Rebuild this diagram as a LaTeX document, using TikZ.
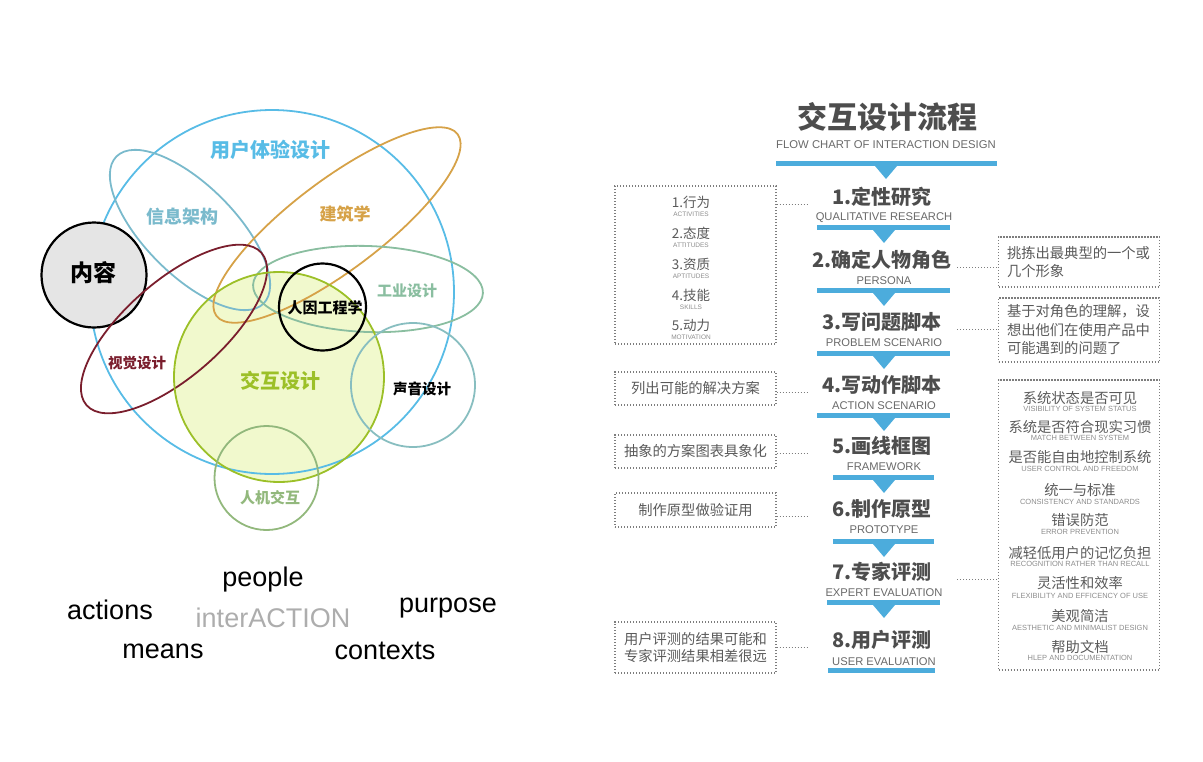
\documentclass[tikz,border=0pt]{standalone}
\usepackage{fontspec}
\setmainfont{Liberation Sans}
\newfontfamily\cjk{Noto Sans CJK SC}

\definecolor{uxblue}{RGB}{88,188,230}
\definecolor{iateal}{RGB}{122,186,204}
\definecolor{archorange}{RGB}{214,162,72}
\definecolor{visred}{RGB}{122,30,45}
\definecolor{indgreen}{RGB}{138,190,160}
\definecolor{ixgreen}{RGB}{156,192,40}
\definecolor{ixfill}{RGB}{241,249,205}
\definecolor{soundteal}{RGB}{136,190,192}
\definecolor{hcigreen}{RGB}{146,184,124}
\definecolor{contentgray}{RGB}{229,229,229}
\definecolor{barblue}{RGB}{76,172,220}
\definecolor{titlegray}{RGB}{77,77,77}
\definecolor{subgray}{RGB}{105,105,105}
\definecolor{notegray}{RGB}{90,90,90}
\definecolor{tinygray}{RGB}{140,140,140}
\definecolor{dotgray}{RGB}{125,125,125}

\begin{document}
\begin{tikzpicture}[x=1pt, y=-1pt,
    ring/.style={line width=1.8pt},
    vlabel/.style={font=\cjk\bfseries\fontsize{#1}{#1}\selectfont},
    word/.style={font=\fontsize{27}{27}\selectfont},
    steptitle/.style={font=\cjk\bfseries\fontsize{20}{20}\selectfont, text=titlegray},
    stepsub/.style={font=\fontsize{11.2}{11.2}\selectfont, text=subgray},
    notebox/.style={draw=dotgray, line width=1.2pt, dash pattern=on 1.2pt off 1.8pt,
      minimum width=161, inner sep=0pt},
    notetext/.style={font=\cjk\fontsize{14.3}{18.5}\selectfont, text=notegray},
    itemcn/.style={font=\cjk\fontsize{#1}{#1}\selectfont, text=notegray},
    itemen/.style={font=\fontsize{#1}{#1}\selectfont, text=tinygray},
    link/.style={draw=dotgray, line width=1.2pt, dash pattern=on 1.2pt off 1.8pt}]
  \useasboundingbox (0,0) rectangle (1203,761);

  % venn diagram
  \fill[ixfill] (279,377) circle (105);
  \scope[ring]
  \draw[uxblue] (272,292) circle (182);
  \filldraw[fill=contentgray, draw=black, line width=2.2pt] (94,275) circle (52.5);
  \draw[iateal, rotate around={-45:(190,230)}] (190,230) ellipse [x radius=104, y radius=45];
  \draw[archorange, rotate around={37:(337,225)}] (337,225) ellipse [x radius=151, y radius=45];
  \draw[indgreen, rotate around={-2:(368,289)}] (368,289) ellipse [x radius=115, y radius=43];
  \draw[visred, rotate around={41:(174,329)}] (174,329) ellipse [x radius=116, y radius=48];
  \draw[ixgreen] (279,377) circle (105);
  \draw[black, line width=2.2pt] (322.5,307) circle (43.5);
  \draw[soundteal] (413,385) circle (62);
  \draw[hcigreen] (266.5,478) circle (52);
  \endscope

  \node[vlabel=20, text=uxblue] (ux) at (270,150) {用户体验设计};
  \node[vlabel=18, text=iateal] (ia) at (182,217) {信息架构};
  \node[vlabel=17, text=archorange] (arch) at (345,214) {建筑学};
  \node[vlabel=23] (content) at (93,273) {内容};
  \node[vlabel=15, text=indgreen] (ind) at (407,291) {工业设计};
  \node[vlabel=15] (ergo) at (325,308) {人因工程学};
  \node[vlabel=14.5, text=visred] (vis) at (137,363) {视觉设计};
  \node[vlabel=20, text=ixgreen] (ix) at (280,381) {交互设计};
  \node[vlabel=14.5] (sound) at (422,389) {声音设计};
  \node[vlabel=15, text=hcigreen] (hci) at (270,498) {人机交互};

  % words
  \node[word] (people) at (263,580) {people};
  \node[word] (actions) at (110,610) {actions};
  \node[word, text=black!32] (interaction) at (273,618) {interACTION};
  \node[word] (purpose) at (448,608) {purpose};
  \node[word] (means) at (163,651) {means};
  \node[word] (contexts) at (385,651) {contexts};

  % flow chart header
  \node[font=\cjk\bfseries\fontsize{30}{30}\selectfont, text=titlegray] (title) at (887,117) {交互设计流程};
  \node[stepsub, font=\fontsize{11.3}{11.3}\selectfont] (subtitle) at (886,145) {FLOW CHART OF INTERACTION DESIGN};
  \fill[barblue] (776,161) rectangle (997,166);
  \fill[barblue] (875,166) -- (897,166) -- (886,179) -- cycle;

  % steps
  \node[steptitle] (t1) at (882,197) {1.定性研究};
  \node[stepsub] (s1) at (884,218) {QUALITATIVE RESEARCH};
  \fill[barblue] (817,225) rectangle (950,230);
  \fill[barblue] (873,230) -- (895,230) -- (884,243) -- cycle;

  \node[steptitle] (t2) at (882,260) {2.确定人物角色};
  \node[stepsub] (s2) at (884,281) {PERSONA};
  \fill[barblue] (817,288) rectangle (950,293);
  \fill[barblue] (873,293) -- (895,293) -- (884,306) -- cycle;

  \node[steptitle] (t3) at (882,322) {3.写问题脚本};
  \node[stepsub] (s3) at (884,343) {PROBLEM SCENARIO};
  \fill[barblue] (817,351) rectangle (950,356);
  \fill[barblue] (873,356) -- (895,356) -- (884,369) -- cycle;

  \node[steptitle] (t4) at (882,385) {4.写动作脚本};
  \node[stepsub] (s4) at (884,406) {ACTION SCENARIO};
  \fill[barblue] (817,413) rectangle (950,418);
  \fill[barblue] (873,418) -- (895,418) -- (884,431) -- cycle;

  \node[steptitle] (t5) at (882,446) {5.画线框图};
  \node[stepsub] (s5) at (884,467) {FRAMEWORK};
  \fill[barblue] (833,475) rectangle (934,480);
  \fill[barblue] (873,480) -- (895,480) -- (884,493) -- cycle;

  \node[steptitle] (t6) at (882,509) {6.制作原型};
  \node[stepsub] (s6) at (884,530) {PROTOTYPE};
  \fill[barblue] (833,539) rectangle (934,544);
  \fill[barblue] (873,544) -- (895,544) -- (884,557) -- cycle;

  \node[steptitle] (t7) at (882,572) {7.专家评测};
  \node[stepsub] (s7) at (884,593) {EXPERT EVALUATION};
  \fill[barblue] (827,600) rectangle (940,605);
  \fill[barblue] (873,605) -- (895,605) -- (884,618) -- cycle;

  \node[steptitle] (t8) at (882,640) {8.用户评测};
  \node[stepsub] (s8) at (884,662) {USER EVALUATION};
  \fill[barblue] (828,668) rectangle (935,673);

  % notes on the left
  \node[notebox, minimum height=158] (noteA) at (695.5,265) {};
  \node[itemcn=13.5] (a1) at (691,202) {1.行为};
  \node[itemen=6.5] (a1e) at (691,214) {ACTIVITIES};
  \node[itemcn=13.5] (a2) at (691,233) {2.态度};
  \node[itemen=6.5] (a2e) at (691,245) {ATTITUDES};
  \node[itemcn=13.5] (a3) at (691,264) {3.资质};
  \node[itemen=6.5] (a3e) at (691,276) {APTITUDES};
  \node[itemcn=13.5] (a4) at (691,295) {4.技能};
  \node[itemen=6.5] (a4e) at (691,307) {SKILLS};
  \node[itemcn=13.5] (a5) at (691,325) {5.动力};
  \node[itemen=6.5] (a5e) at (691,337) {MOTIVATION};

  \node[notebox, notetext, minimum height=33] (noteE) at (695.5,388.5) {列出可能的解决方案};
  \node[notebox, notetext, minimum height=33] (noteF) at (695.5,451.5) {抽象的方案图表具象化};
  \node[notebox, notetext, minimum height=34] (noteG) at (695.5,510) {制作原型做验证用};
  \node[notebox, notetext, minimum height=51, align=center,
    font=\cjk\fontsize{14.3}{17}\selectfont] (noteH) at (695.5,647.5) {用户评测的结果可能和\\专家评测结果相差很远};

  % notes on the right
  \node[notebox, notetext, minimum height=50, text width=144, inner xsep=8.5, align=left]
    (noteB) at (1079,262) {挑拣出最典型的一个或\\几个形象};
  \node[notebox, notetext, minimum height=64, text width=144, inner xsep=8.5, align=left]
    (noteC) at (1079,330) {基于对角色的理解，设\\想出他们在使用产品中\\可能遇到的问题了};

  \node[notebox, minimum height=290] (noteD) at (1079,525) {};
  \node[itemcn=14.3] (d1) at (1080,398) {系统状态是否可见};
  \node[itemen=7.5] (d1e) at (1080,409) {VISIBILITY OF SYSTEM STATUS};
  \node[itemcn=14.3] (d2) at (1080,427) {系统是否符合现实习惯};
  \node[itemen=7.5] (d2e) at (1080,438) {MATCH BETWEEN SYSTEM};
  \node[itemcn=14.3] (d3) at (1080,457) {是否能自由地控制系统};
  \node[itemen=7.5] (d3e) at (1080,469) {USER CONTROL AND FREEDOM};
  \node[itemcn=14.3] (d4) at (1080,490) {统一与标准};
  \node[itemen=7.5] (d4e) at (1080,502) {CONSISTENCY AND STANDARDS};
  \node[itemcn=14.3] (d5) at (1080,520) {错误防范};
  \node[itemen=7.5] (d5e) at (1080,532) {ERROR PREVENTION};
  \node[itemcn=14.3] (d6) at (1080,553) {减轻低用户的记忆负担};
  \node[itemen=7.5] (d6e) at (1080,564) {RECOGNITION RATHER THAN RECALL};
  \node[itemcn=14.3] (d7) at (1080,583) {灵活性和效率};
  \node[itemen=7.5] (d7e) at (1080,596) {FLEXIBILITY AND EFFICENCY OF USE};
  \node[itemcn=14.3] (d8) at (1080,616) {美观简洁};
  \node[itemen=7.5] (d8e) at (1080,628) {AESTHETIC AND MINIMALIST DESIGN};
  \node[itemcn=14.3] (d9) at (1080,647) {帮助文档};
  \node[itemen=7.5] (d9e) at (1080,658) {HLEP AND DOCUMENTATION};

  % dotted links
  \coordinate (linkL) at (808,0);
  \coordinate (linkR) at (957,0);
  \draw[link] (noteA.east |- t1.base) -- (linkL |- t1.base);
  \draw[link] (linkR |- t2.base) -- (noteB.west |- t2.base);
  \draw[link] (linkR |- t3.base) -- (noteC.west |- t3.base);
  \draw[link] (noteE.east |- t4.base) -- (linkL |- t4.base);
  \draw[link] (noteF.east |- t5.base) -- (linkL |- t5.base);
  \draw[link] (noteG.east |- t6.base) -- (linkL |- t6.base);
  \draw[link] (linkR |- t7.base) -- (noteD.west |- t7.base);
  \draw[link] (noteH.east |- t8.base) -- (linkL |- t8.base);
\end{tikzpicture}
\end{document}
